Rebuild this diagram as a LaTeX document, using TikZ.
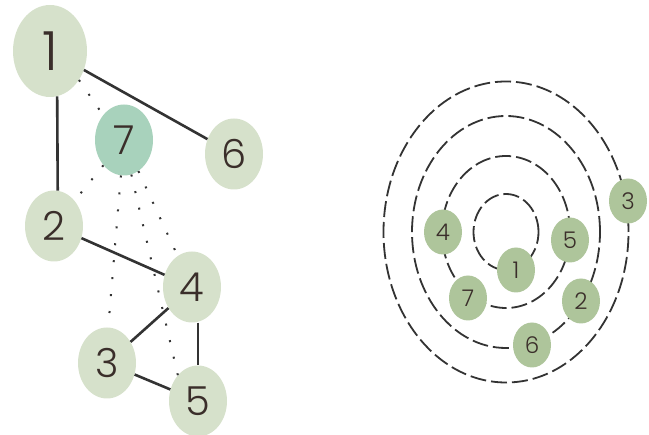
\documentclass[tikz,border=0pt]{standalone}
\usepackage{fontspec}
\setmainfont{Poppins}[UprightFont=* Light]
\usetikzlibrary{shapes.geometric}
\definecolor{lightsage}{HTML}{D6E1CB}
\definecolor{mintnode}{HTML}{A8D2BC}
\definecolor{sagenode}{HTML}{AEC59B}
\definecolor{inkline}{HTML}{333333}
\definecolor{digit}{HTML}{3A2E2A}
\tikzset{
  bignode/.style={ellipse, fill=lightsage, inner sep=0pt, minimum width=58pt, minimum height=71pt, text=digit, font=\fontsize{40}{40}\selectfont},
  smallnode/.style={ellipse, fill=sagenode, inner sep=0pt, minimum width=38pt, minimum height=45pt, text=digit, font=\fontsize{23}{23}\selectfont},
  solidedge/.style={draw=inkline, line width=2.6pt},
  dotedge/.style={draw=inkline, line width=2pt, dash pattern=on 2pt off 15pt},
  ring/.style={draw=inkline, line width=1.8pt, dash pattern=on 16pt off 5pt},
}
\begin{document}
\begin{tikzpicture}[x=1pt,y=-1pt]
\useasboundingbox (0,0) rectangle (649,435);
% left graph
\node[bignode, minimum width=74pt, minimum height=92pt, font=\fontsize{54}{54}\selectfont] (L1) at (50,51) {1};
\node[bignode, fill=mintnode] (L7) at (124,140) {7};
\node[bignode] (L6) at (234,154) {6};
\node[bignode] (L2) at (54,226) {2};
\node[bignode] (L4) at (192,287) {4};
\node[bignode] (L3) at (107,363) {3};
\node[bignode] (L5) at (198,401) {5};
\draw[solidedge] (L1) -- (L6);
\draw[solidedge] (L1.-81) -- (L2.84);
\draw[solidedge] (L2) -- (L4);
\draw[solidedge] (L4) -- (L3);
\draw[solidedge] (L4.south -| L5.north) -- (L5.north);
\draw[solidedge] (L3) -- (L5);
\draw[dotedge] (L1.-45) -- (L7.130);
\draw[dotedge] (L7) -- (L2);
\draw[dotedge] (L7.-95) -- (L3.88);
\draw[dotedge] (L7.-78) -- (L5.128);
\draw[dotedge] (L7) -- (L4);
% right diagram
\coordinate (C) at (506,232);
\draw[ring] (C) ellipse [x radius=32.5pt, y radius=38pt];
\draw[ring] (C) ellipse [x radius=64pt, y radius=76pt];
\draw[ring] (C) ellipse [x radius=94pt, y radius=116pt];
\draw[ring] (C) ellipse [x radius=122.5pt, y radius=150.5pt];
\node[smallnode] (R1) at (516,270) {1};
\node[smallnode] (R4) at (443,232) {4};
\node[smallnode] (R5) at (570,240) {5};
\node[smallnode] (R7) at (468,298) {7};
\node[smallnode] (R2) at (581,301) {2};
\node[smallnode] (R6) at (532,345) {6};
\node[smallnode] (R3) at (628,201) {3};
\end{tikzpicture}
\end{document}
